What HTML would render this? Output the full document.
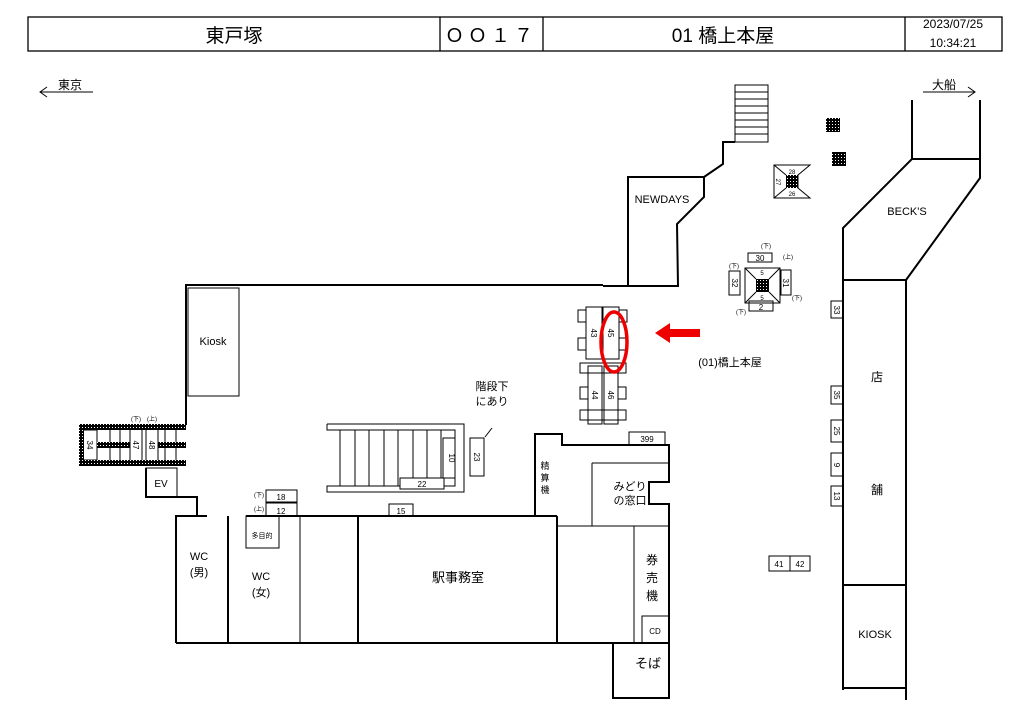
<!DOCTYPE html>
<html><head><meta charset="utf-8"><style>
html,body{margin:0;padding:0;background:#fff}
svg{display:block}
text{font-family:"Liberation Sans","Noto Sans CJK JP",sans-serif;fill:#000}
</style></head><body>
<svg width="1024" height="724" viewBox="0 0 1024 724" xmlns="http://www.w3.org/2000/svg">
<defs>
<pattern id="h" width="3" height="3" patternUnits="userSpaceOnUse"><rect width="3" height="3" fill="#000"/><rect x="1" y="1" width="1" height="1" fill="#fff"/></pattern>
</defs>
<g fill="none" stroke="#000" stroke-width="1.3">
<rect x="28" y="17" width="974" height="34"/>
<line x1="440" y1="17" x2="440" y2="51"/><line x1="543" y1="17" x2="543" y2="51"/><line x1="905" y1="17" x2="905" y2="51"/>
</g>
<text x="234" y="42" font-size="19" text-anchor="middle">東戸塚</text>
<text x="491" y="42" font-size="19" text-anchor="middle" letter-spacing="4">ＯＯ１７</text>
<text x="723" y="42" font-size="19" text-anchor="middle">01 橋上本屋</text>
<text x="953" y="28" font-size="12" text-anchor="middle">2023/07/25</text>
<text x="953" y="47" font-size="12" text-anchor="middle">10:34:21</text>
<g fill="none" stroke="#000" stroke-width="1">
<line x1="40" y1="92" x2="93" y2="92"/><polyline points="47,87 40,92 47,97"/>
<line x1="923" y1="92" x2="975" y2="92"/><polyline points="968,87 975,92 968,97"/>
</g>
<text x="58" y="89" font-size="12">東京</text>
<text x="932" y="89" font-size="12">大船</text>
<g fill="none" stroke="#000" stroke-width="2">
<polyline points="186,425 186,285 603,285"/>
<polyline points="603,286 678,286 677,224 704,197 704,177 628,177 628,286"/>
<polyline points="704,177 723,164 723,142 735,142"/>
<polyline points="912,100 912,159 843,228 843,690"/>
<polyline points="980,100 980,178 906,280 906,700"/>
<line x1="912" y1="159" x2="980" y2="159"/>
<line x1="843" y1="280" x2="906" y2="280"/>
<line x1="843" y1="585" x2="906" y2="585"/>
<line x1="843" y1="688" x2="906" y2="688"/>
<polyline points="146,468 146,488 146,497 197,497 197,516"/>
<polyline points="176,643 176,516 207,516"/>
<line x1="228" y1="516" x2="228" y2="643"/>
<line x1="246" y1="516" x2="557" y2="516"/>
<line x1="358" y1="516" x2="358" y2="643"/>
<line x1="557" y1="516" x2="557" y2="643"/>
<polyline points="535,516 535,434 562,434 562,445 669,445 669,482 649,482 649,504 669,504 669,698 613,698 613,643"/>
<line x1="176" y1="643" x2="669" y2="643"/>
</g>
<g fill="none" stroke="#000" stroke-width="1">
<rect x="188" y="288" width="51" height="108"/>
<rect x="735" y="85" width="33" height="57"/>
<line x1="735" y1="92" x2="768" y2="92"/><line x1="735" y1="99" x2="768" y2="99"/><line x1="735" y1="106" x2="768" y2="106"/><line x1="735" y1="113" x2="768" y2="113"/><line x1="735" y1="120" x2="768" y2="120"/><line x1="735" y1="127" x2="768" y2="127"/><line x1="735" y1="134" x2="768" y2="134"/>
<line x1="300" y1="516" x2="300" y2="643"/>
<rect x="246" y="516" width="33" height="32"/>
<line x1="557" y1="526" x2="669" y2="526"/>
<line x1="592" y1="463" x2="592" y2="526"/>
<line x1="592" y1="463" x2="669" y2="463"/>
<line x1="634" y1="526" x2="634" y2="643"/>
<rect x="642" y="616" width="27" height="27"/>
<rect x="629" y="432" width="36" height="13"/>
<rect x="769" y="556" width="21" height="15"/><rect x="790" y="556" width="20" height="15"/>
<rect x="266" y="490" width="31" height="12"/><rect x="266" y="503" width="31" height="13"/>
<rect x="389" y="504" width="24" height="12"/>
<polyline points="327,424 464,424 464,492 327,492 327,486 455,486 455,430 327,430 327,424"/>
<line x1="340" y1="430" x2="340" y2="486"/><line x1="355" y1="430" x2="355" y2="486"/><line x1="369" y1="430" x2="369" y2="486"/><line x1="384" y1="430" x2="384" y2="486"/><line x1="398" y1="430" x2="398" y2="486"/><line x1="413" y1="430" x2="413" y2="486"/><line x1="427" y1="430" x2="427" y2="486"/><line x1="441" y1="430" x2="441" y2="486"/>
<rect x="443" y="438" width="12" height="40" fill="#fff"/>
<rect x="400" y="478" width="44" height="11" fill="#fff"/>
<rect x="470" y="438" width="14" height="38"/>
<line x1="485" y1="437" x2="492" y2="428"/>
<rect x="831" y="301" width="12" height="17"/><rect x="831" y="386" width="12" height="18"/><rect x="831" y="420" width="12" height="22"/><rect x="831" y="453" width="12" height="23"/><rect x="831" y="486" width="12" height="20"/>
<path d="M774,165 L810,165 L798,175 L798,188 L810,198 L774,198 Z"/>
<line x1="774" y1="165" x2="786" y2="175"/><line x1="774" y1="198" x2="786" y2="188"/>
<rect x="745" y="268" width="35" height="35"/>
<line x1="745" y1="268" x2="756" y2="279"/><line x1="780" y1="268" x2="769" y2="279"/><line x1="745" y1="303" x2="756" y2="292"/><line x1="780" y1="303" x2="769" y2="292"/>
<rect x="748" y="253" width="24" height="9"/><rect x="749" y="301" width="24" height="10"/>
<rect x="729" y="271" width="11" height="24"/><rect x="781" y="270" width="10" height="25"/>
<rect x="586" y="307" width="16" height="52"/><rect x="603" y="307" width="16" height="52"/>
<rect x="578" y="310" width="8" height="12"/><rect x="578" y="338" width="8" height="12"/><rect x="619" y="310" width="8" height="12"/><rect x="619" y="338" width="8" height="12"/>
<rect x="588" y="366" width="14" height="58"/><rect x="604" y="366" width="14" height="58"/>
<rect x="580" y="363" width="46" height="10"/><rect x="580" y="387" width="8" height="12"/><rect x="618" y="387" width="8" height="12"/><rect x="580" y="410" width="46" height="10"/>
<rect x="83" y="430" width="14" height="30" fill="#fff"/>
<line x1="110" y1="430" x2="110" y2="460"/><line x1="120" y1="430" x2="120" y2="460"/><line x1="165" y1="430" x2="165" y2="460"/><line x1="176" y1="430" x2="176" y2="460"/>
<rect x="130" y="428" width="12" height="34" fill="#fff"/><rect x="146" y="428" width="12" height="34" fill="#fff"/>
<rect x="146" y="468" width="31" height="29"/>
</g>
<rect x="79" y="424" width="107" height="6" fill="url(#h)"/>
<rect x="79" y="460" width="107" height="6" fill="url(#h)"/>
<rect x="79" y="424" width="5" height="42" fill="url(#h)"/>
<rect x="97" y="442" width="33" height="6" fill="url(#h)"/>
<rect x="158" y="442" width="28" height="6" fill="url(#h)"/>
<rect x="826" y="118" width="14" height="14" fill="url(#h)"/>
<rect x="832" y="152" width="14" height="14" fill="url(#h)"/>
<rect x="786" y="175" width="12" height="13" fill="url(#h)"/>
<rect x="756" y="279" width="13" height="13" fill="url(#h)"/>
<ellipse cx="614" cy="342" rx="13" ry="30" fill="none" stroke="#e00" stroke-width="3.5"/>
<path d="M700,329 L670,329 L670,323 L655,333 L670,343 L670,337 L700,337 Z" fill="#e00"/>
<g font-size="11">
<text x="662" y="203" text-anchor="middle">NEWDAYS</text>
<text x="907" y="215" text-anchor="middle">BECK'S</text>
<text x="213" y="345" text-anchor="middle">Kiosk</text>
<text x="730" y="366" text-anchor="middle">(01)橋上本屋</text>
<text x="877" y="381" text-anchor="middle" font-size="12">店</text>
<text x="877" y="494" text-anchor="middle" font-size="12">舗</text>
<text x="875" y="638" text-anchor="middle">KIOSK</text>
<text x="492" y="390" text-anchor="middle" font-size="11">階段下</text>
<text x="492" y="405" text-anchor="middle" font-size="11">にあり</text>
<text x="161" y="487" text-anchor="middle" font-size="10">EV</text>
<text x="199" y="560" text-anchor="middle">WC</text><text x="199" y="576" text-anchor="middle">(男)</text>
<text x="261" y="580" text-anchor="middle">WC</text><text x="261" y="596" text-anchor="middle">(女)</text>
<text x="458" y="582" text-anchor="middle" font-size="13">駅事務室</text>
<text x="545" y="469" text-anchor="middle" font-size="9">精</text><text x="545" y="481" text-anchor="middle" font-size="9">算</text><text x="545" y="493" text-anchor="middle" font-size="9">機</text>
<text x="630" y="490" text-anchor="middle">みどり</text><text x="630" y="504" text-anchor="middle">の窓口</text>
<text x="652" y="564" text-anchor="middle" font-size="12">券</text><text x="652" y="582" text-anchor="middle" font-size="12">売</text><text x="652" y="600" text-anchor="middle" font-size="12">機</text>
<text x="655" y="634" text-anchor="middle" font-size="8">CD</text>
<text x="648" y="668" text-anchor="middle" font-size="13">そば</text>
<text x="262" y="538" text-anchor="middle" font-size="7">多目的</text>
</g>
<g font-size="8" text-anchor="middle">
<text x="647" y="442">399</text>
<text x="779" y="567">41</text><text x="800" y="567">42</text>
<text x="281" y="500">18</text><text x="281" y="514">12</text>
<text x="401" y="514">15</text>
<text x="422" y="487">22</text>
<text x="259" y="497" font-size="6">(下)</text><text x="259" y="511" font-size="6">(上)</text>
<text x="136" y="421" font-size="6">(下)</text><text x="152" y="421" font-size="6">(上)</text>
<text x="760" y="261">30</text><text x="761" y="310">2</text>
<text x="766" y="248" font-size="6">(下)</text><text x="788" y="259" font-size="6">(上)</text>
<text x="734" y="268" font-size="6">(下)</text><text x="797" y="300" font-size="6">(下)</text><text x="741" y="314" font-size="6">(下)</text>
<text x="762" y="275" font-size="6">5</text><text x="762" y="300" font-size="6">5</text>
<text x="792" y="174" font-size="6">28</text><text x="792" y="196" font-size="6">26</text>
<text transform="translate(449,458) rotate(90)">10</text>
<text transform="translate(474,457) rotate(90)">23</text>
<text transform="translate(87,445) rotate(90)">34</text>
<text transform="translate(133,445) rotate(90)">47</text>
<text transform="translate(149,445) rotate(90)">48</text>
<text transform="translate(591,333) rotate(90)">43</text>
<text transform="translate(608,333) rotate(90)">45</text>
<text transform="translate(592,395) rotate(90)">44</text>
<text transform="translate(608,395) rotate(90)">46</text>
<text transform="translate(834,310) rotate(90)">33</text>
<text transform="translate(834,395) rotate(90)">35</text>
<text transform="translate(834,431) rotate(90)">25</text>
<text transform="translate(834,465) rotate(90)">9</text>
<text transform="translate(834,496) rotate(90)">13</text>
<text transform="translate(732,283) rotate(90)">32</text>
<text transform="translate(783,283) rotate(90)">31</text>
<text transform="translate(776,182) rotate(90)" font-size="6">27</text>
</g>
</svg>
</body></html>
